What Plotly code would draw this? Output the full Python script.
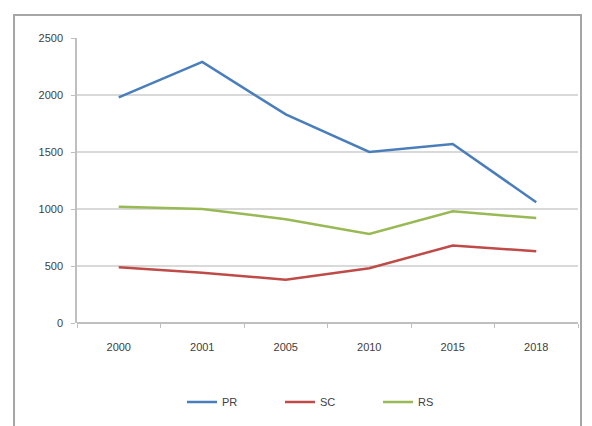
import plotly.graph_objects as go

years = ["2000", "2001", "2005", "2010", "2015", "2018"]
pr = [1980, 2290, 1830, 1500, 1570, 1060]
sc = [490, 440, 380, 480, 680, 630]
rs = [1020, 1000, 910, 780, 980, 920]

series = [("PR", pr, "#4A7EBB"), ("SC", sc, "#BE4B48"), ("RS", rs, "#98B954")]

FONT = "Liberation Sans, Arial, sans-serif"

fig = go.Figure()
for name, vals, col in series:
    fig.add_trace(go.Scatter(x=years, y=vals, name=name, mode="lines",
                             line=dict(color=col, width=2.5)))

fig.update_layout(
    width=584, height=418,
    margin=dict(l=69, r=14, t=30, b=103, autoexpand=False),
    paper_bgcolor="white", plot_bgcolor="white",
    font=dict(family=FONT, size=11, color="#404040"),
    showlegend=True,
    legend=dict(orientation="h", x=0.503, xanchor="center", y=-0.277, yanchor="middle",
                itemwidth=30, entrywidth=53, font=dict(size=11, color="#404040"),
                bgcolor="rgba(0,0,0,0)"),
    xaxis=dict(type="category", range=[-0.5, 5.5], tickson="boundaries", ticks="outside",
               ticklen=4, tickcolor="#bfbfbf", showgrid=False, showline=False, zeroline=False,
               tickfont=dict(size=11), automargin=False, fixedrange=True,
               ticklabelstandoff=16),
    yaxis=dict(range=[0, 2500], dtick=500, showgrid=True, gridcolor="#d9d9d9", gridwidth=1.5,
               showline=True, linecolor="#bfbfbf", linewidth=1.5, ticks="outside",
               ticklen=4, tickcolor="#bfbfbf", zeroline=True, zerolinecolor="#bfbfbf",
               zerolinewidth=1.5, tickfont=dict(size=11), automargin=False, ticklabelstandoff=6),
    shapes=[
        dict(type="rect", xref="paper", yref="paper", x0=-0.1257, x1=1.006, y0=-0.4, y1=1.0807,
             line=dict(color="#a6a6a6", width=2), layer="below"),
    ],
)

fig.write_html("out.html")
